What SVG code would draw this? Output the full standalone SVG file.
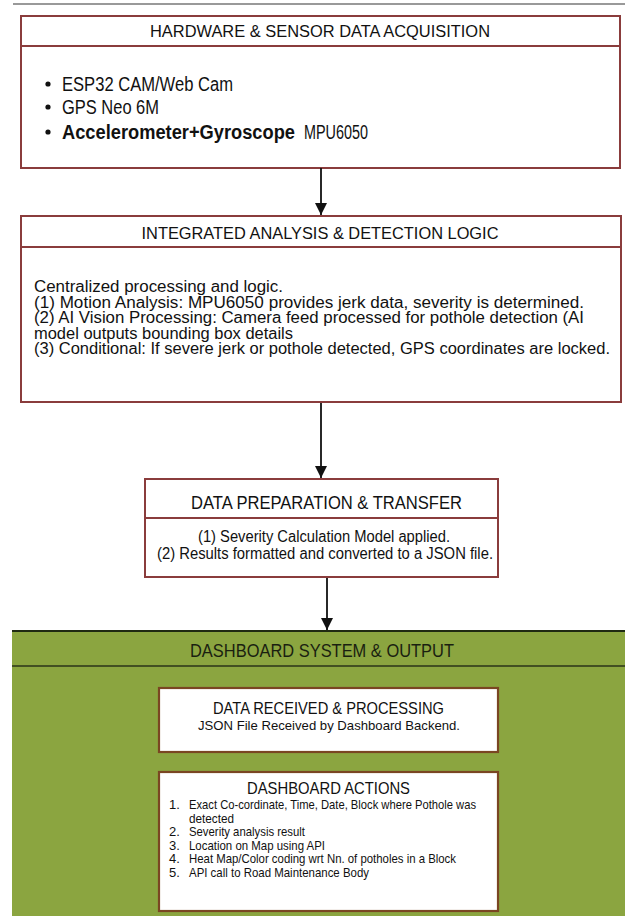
<svg xmlns="http://www.w3.org/2000/svg" width="625" height="916" viewBox="0 0 625 916">
<style>
text{font-family:"Liberation Sans",Arial,sans-serif;fill:#111}
.box{fill:#fff;stroke:#8a3c3c;stroke-width:2}
.div{stroke:#8a3c3c;stroke-width:2}
.wbox{fill:#fff;stroke:#7a4622;stroke-width:2.2}
.conn{stroke:#111;stroke-width:1.8;fill:none}
.ttl{text-anchor:middle}
.body{font-size:16px}
.li{font-size:13px}
</style>
<defs>
<marker id="ah" markerUnits="userSpaceOnUse" markerWidth="12" markerHeight="12" refX="12" refY="6" orient="auto" viewBox="0 0 12 12"><path d="M0,0 L12,6 L0,12 z" fill="#111"/></marker>
</defs>
<rect x="0" y="0" width="625" height="916" fill="#fff"/>
<line x1="13" y1="4" x2="625" y2="4" stroke="#777" stroke-width="1.5"/>

<g id="hardware">
<rect class="box" x="21" y="16" width="599" height="152"/>
<line class="div" x1="21" y1="46" x2="620" y2="46"/>
<text class="ttl" x="320" y="37" font-size="16" textLength="340" lengthAdjust="spacingAndGlyphs">HARDWARE &amp; SENSOR DATA ACQUISITION</text>
<circle cx="48" cy="84" r="2.6" fill="#111"/>
<text x="62" y="91" font-size="19.5" textLength="171" lengthAdjust="spacingAndGlyphs">ESP32 CAM/Web Cam</text>
<circle cx="48" cy="107" r="2.6" fill="#111"/>
<text x="62" y="114" font-size="19.5" textLength="97" lengthAdjust="spacingAndGlyphs">GPS Neo 6M</text>
<circle cx="48" cy="132" r="2.6" fill="#111"/>
<text x="62" y="139" font-size="19.5" font-weight="bold" textLength="233" lengthAdjust="spacingAndGlyphs">Accelerometer+Gyroscope</text>
<text x="304" y="139" font-size="19.5" textLength="64" lengthAdjust="spacingAndGlyphs">MPU6050</text>
</g>

<g id="analysis">
<rect class="box" x="21" y="216" width="600" height="186"/>
<line class="div" x1="21" y1="247" x2="621" y2="247"/>
<text class="ttl" x="320" y="239" font-size="16.5" textLength="357" lengthAdjust="spacingAndGlyphs">INTEGRATED ANALYSIS &amp; DETECTION LOGIC</text>
<text class="body" x="34" y="292" textLength="249" lengthAdjust="spacingAndGlyphs">Centralized processing and logic.</text>
<text class="body" x="34" y="307.5" textLength="550" lengthAdjust="spacingAndGlyphs">(1) Motion Analysis: MPU6050 provides jerk data, severity is determined.</text>
<text class="body" x="34" y="323" textLength="550" lengthAdjust="spacingAndGlyphs">(2) AI Vision Processing: Camera feed processed for pothole detection (AI</text>
<text class="body" x="34" y="338.5" textLength="259" lengthAdjust="spacingAndGlyphs">model outputs bounding box details</text>
<text class="body" x="34" y="354" textLength="576" lengthAdjust="spacingAndGlyphs">(3) Conditional: If severe jerk or pothole detected, GPS coordinates are locked.</text>
</g>

<g id="preparation">
<rect class="box" x="145" y="479" width="353" height="98"/>
<line class="div" x1="145" y1="518" x2="498" y2="518"/>
<text class="ttl" x="326.5" y="509" font-size="17.5" textLength="271" lengthAdjust="spacingAndGlyphs">DATA PREPARATION &amp; TRANSFER</text>
<text class="ttl body" x="324" y="542" textLength="252" lengthAdjust="spacingAndGlyphs">(1) Severity Calculation Model applied.</text>
<text class="ttl body" x="325" y="559" textLength="336" lengthAdjust="spacingAndGlyphs">(2) Results formatted and converted to a JSON file.</text>
</g>

<g id="dashboard">
<rect x="12" y="631" width="613" height="285" fill="#8ba540"/>
<line x1="12" y1="631" x2="625" y2="631" stroke="#1f2a12" stroke-width="2"/>
<line x1="12" y1="666" x2="625" y2="666" stroke="#2a3518" stroke-width="1.6"/>
<text class="ttl" x="322" y="657" font-size="18.5" textLength="264" lengthAdjust="spacingAndGlyphs" style="fill:#1a1f10">DASHBOARD SYSTEM &amp; OUTPUT</text>
</g>

<g id="received">
<rect class="wbox" x="159" y="688" width="339" height="64"/>
<text class="ttl" x="328.5" y="714" font-size="17" textLength="231" lengthAdjust="spacingAndGlyphs">DATA RECEIVED &amp; PROCESSING</text>
<text class="ttl" x="329" y="730" font-size="13" textLength="262" lengthAdjust="spacingAndGlyphs">JSON File Received by Dashboard Backend.</text>
</g>

<g id="actions">
<rect class="wbox" x="159" y="772" width="339" height="139"/>
<text class="ttl" x="328.5" y="794" font-size="17" textLength="163" lengthAdjust="spacingAndGlyphs">DASHBOARD ACTIONS</text>
<text class="li" x="169" y="809">1.</text>
<text class="li" x="189" y="809" textLength="287" lengthAdjust="spacingAndGlyphs">Exact Co-cordinate, Time, Date, Block where Pothole was</text>
<text class="li" x="189" y="822.5" textLength="45" lengthAdjust="spacingAndGlyphs">detected</text>
<text class="li" x="169" y="836">2.</text>
<text class="li" x="189" y="836" textLength="116" lengthAdjust="spacingAndGlyphs">Severity analysis result</text>
<text class="li" x="169" y="849.5">3.</text>
<text class="li" x="189" y="849.5" textLength="136" lengthAdjust="spacingAndGlyphs">Location on Map using API</text>
<text class="li" x="169" y="863">4.</text>
<text class="li" x="189" y="863" textLength="267" lengthAdjust="spacingAndGlyphs">Heat Map/Color coding wrt Nn. of potholes in a Block</text>
<text class="li" x="169" y="876.5">5.</text>
<text class="li" x="189" y="876.5" textLength="180" lengthAdjust="spacingAndGlyphs">API call to Road Maintenance Body</text>
</g>

<g id="connectors">
<line class="conn" x1="321" y1="168" x2="321" y2="215" marker-end="url(#ah)"/>
<line class="conn" x1="321" y1="403" x2="321" y2="478" marker-end="url(#ah)"/>
<line class="conn" x1="327" y1="578" x2="327" y2="630" marker-end="url(#ah)"/>
</g>
</svg>
